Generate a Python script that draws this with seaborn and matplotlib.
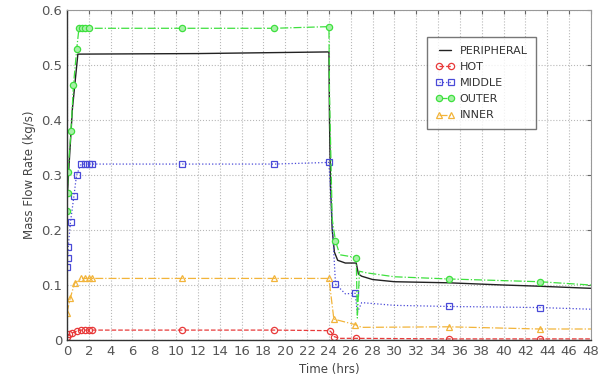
import matplotlib
matplotlib.use("Agg")
import matplotlib.pyplot as plt
import seaborn as sns
import pandas as pd

# ---- data ----
peripheral_t = [0.0, 0.2, 0.5, 1.0, 12.0, 24.0, 24.05, 24.15, 24.3, 24.5, 24.8, 25.5, 26.5, 26.7, 27.0, 28.0, 30.0, 35.0, 40.0, 43.0, 48.0]
peripheral_v = [0.25, 0.32, 0.42, 0.52, 0.521, 0.524, 0.40, 0.28, 0.20, 0.16, 0.145, 0.14, 0.14, 0.12, 0.116, 0.11, 0.106, 0.104, 0.10, 0.098, 0.094]

hot_t = [0.0, 0.2, 0.5, 0.9, 1.3, 1.7, 2.0, 2.3, 10.5, 19.0, 24.1, 24.5, 25.0, 26.5, 35.0, 43.3, 48.0]
hot_v = [0.006, 0.01, 0.013, 0.016, 0.018, 0.018, 0.018, 0.018, 0.018, 0.018, 0.017, 0.006, 0.003, 0.003, 0.002, 0.002, 0.002]

middle_t = [0.02, 0.06, 0.12, 0.33, 0.64, 0.88, 1.3, 1.7, 2.0, 2.3, 10.5, 19.0, 24.0, 24.6, 25.5, 26.4, 26.6, 27.0, 30.0, 35.0, 43.3, 48.0]
middle_v = [0.133, 0.150, 0.170, 0.215, 0.262, 0.300, 0.320, 0.320, 0.320, 0.320, 0.320, 0.320, 0.323, 0.102, 0.084, 0.085, 0.05, 0.068, 0.063, 0.061, 0.059, 0.056]

outer_t = [0.02, 0.06, 0.1, 0.37, 0.6, 0.9, 1.1, 1.4, 1.7, 2.0, 10.5, 19.0, 24.0, 24.05, 24.3, 24.6, 25.0, 26.5, 26.6, 26.8, 27.5, 30.0, 35.0, 43.3, 48.0]
outer_v = [0.235, 0.267, 0.306, 0.380, 0.464, 0.530, 0.567, 0.567, 0.567, 0.567, 0.567, 0.567, 0.570, 0.45, 0.22, 0.18, 0.155, 0.150, 0.04, 0.125, 0.122, 0.115, 0.111, 0.106, 0.100]

inner_t = [0.0, 0.3, 0.7, 1.3, 1.7, 2.0, 2.3, 10.5, 19.0, 24.0, 24.45, 26.4, 27.0, 35.0, 43.3, 48.0]
inner_v = [0.049, 0.076, 0.103, 0.112, 0.112, 0.112, 0.112, 0.112, 0.112, 0.112, 0.038, 0.028, 0.023, 0.024, 0.020, 0.020]

x_ticks = list(range(0, 49, 2))
y_ticks = [0, 0.1, 0.2, 0.3, 0.4, 0.5, 0.6]
y_tick_labels = ["0", "0.1", "0.2", "0.3", "0.4", "0.5", "0.6"]

sns.set_style("white")
plt.rcParams['font.family'] = ['DejaVu Sans']

fig = plt.figure(figsize=(6.03, 3.84), dpi=100)
ax = fig.add_axes([0.111, 0.1146, 0.869, 0.859])

def draw(t, v, label, color, ls, marker, mfc, marker_idx, lw=0.9):
    df = pd.DataFrame({"t": t, "v": v})
    sns.lineplot(data=df, x="t", y="v", ax=ax, color=color, linestyle=ls,
                 linewidth=lw, marker=marker, markersize=4.5, markerfacecolor=mfc,
                 markeredgecolor=color, markeredgewidth=0.9,
                 markevery=marker_idx, label=label, sort=False, estimator=None,
                 legend=False)

draw(peripheral_t, peripheral_v, "PERIPHERAL", "#222222", "-", None, "none", None, lw=1.0)
draw(hot_t, hot_v, "HOT", "#e83a3a", "--", "o", "none", [0, 1, 2, 3, 4, 5, 6, 7, 8, 9, 10, 11, 13, 14, 15])
draw(middle_t, middle_v, "MIDDLE", "#4a4ad8", ":", "s", "none", [0, 1, 2, 3, 4, 5, 6, 7, 8, 9, 10, 11, 12, 13, 15, 19, 20])
draw(outer_t, outer_v, "OUTER", "#3ee03e", "-.", "o", "#a8f0a8", [0, 1, 2, 3, 4, 5, 6, 7, 8, 9, 10, 11, 12, 15, 17, 22, 23])
draw(inner_t, inner_v, "INNER", "#f2b43a", "-.", "^", "none", [0, 1, 2, 3, 4, 5, 6, 7, 8, 9, 10, 11, 13, 14])

ax.set_xlim(0, 48)
ax.set_ylim(0, 0.6)
ax.set_xticks(x_ticks)
ax.set_yticks(y_ticks)
ax.set_yticklabels(y_tick_labels)
ax.grid(True, color="#b8b8b8", linestyle=":", linewidth=0.8)
ax.tick_params(axis="both", direction="in", length=3, colors="#666666", labelsize=9.5,
               labelcolor="#555555", top=True, right=True, labeltop=False, labelright=False)
for side in ["left", "bottom"]:
    ax.spines[side].set_color("#333333")
    ax.spines[side].set_linewidth(1.0)
for side in ["top", "right"]:
    ax.spines[side].set_color("#999999")
    ax.spines[side].set_linewidth(0.8)
ax.set_xlabel("Time (hrs)", fontsize=8.5, color="#444444")
ax.set_ylabel("Mass Flow Rate (kg/s)", fontsize=8.5, color="#444444")

leg = ax.legend(loc="upper left", bbox_to_anchor=(0.677, 0.935), numpoints=2,
                fontsize=8, frameon=True, fancybox=False, handlelength=1.6,
                handletextpad=0.5, borderpad=0.8, labelspacing=0.55)
leg.get_frame().set_edgecolor("#555555")
leg.get_frame().set_linewidth(1.0)
for txt in leg.get_texts():
    txt.set_color("#333333")

fig.savefig("out.png", dpi=100)
